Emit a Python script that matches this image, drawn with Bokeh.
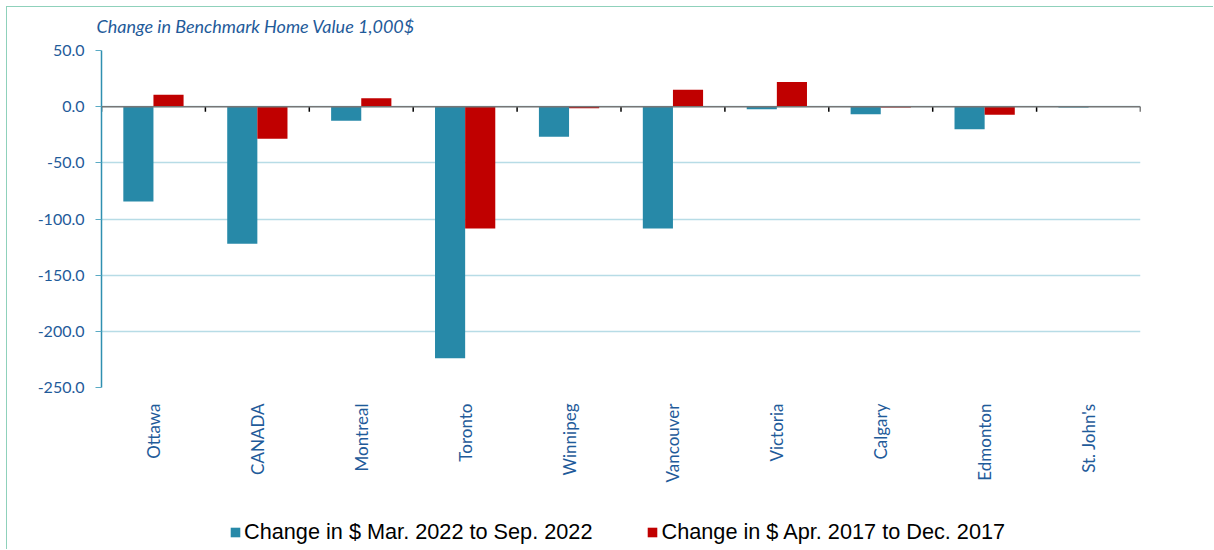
import math
from bokeh.plotting import figure
from bokeh.layouts import column
from bokeh.models import FixedTicker, Legend, LegendItem, Span, NumeralTickFormatter
from bokeh.embed import file_html
from bokeh.resources import INLINE

# ---- data ----
cities = ["Ottawa", "CANADA", "Montreal", "Toronto", "Winnipeg",
          "Vancouver", "Victoria", "Calgary", "Edmonton", "St. John's"]
chg_2022 = [-84.5, -122.0, -12.5, -224.0, -26.7, -108.5, -2.3, -6.7, -20.0, -0.8]
chg_2017 = [10.7, -28.5, 7.5, -108.5, -1.5, 15.0, 22.0, -0.8, -7.2, 0.0]
y_ticks = [50, 0, -50, -100, -150, -200, -250]
series_names = ["Change in $ Mar. 2022 to Sep. 2022", "Change in $ Apr. 2017 to Dec. 2017"]
title_text = "Change in Benchmark Home Value 1,000$"

# ---- styles ----
BLUE = "#2789a8"
RED = "#c00000"
TXT = "#1f5b9a"
FONT = "Lato"
W = 1206
ML, MR = 94, 73


def strip(height, top):
    f = figure(width=W, height=height, x_range=(0, 1), y_range=(0, 1),
               output_backend="svg", toolbar_location=None,
               x_axis_type=None, y_axis_type=None,
               min_border_left=ML, min_border_right=MR, min_border_top=top, min_border_bottom=0)
    f.outline_line_color = None
    f.background_fill_color = "white"
    f.border_fill_color = "white"
    f.xgrid.visible = False
    f.ygrid.visible = False
    return f


n = len(cities)
centers = [i + 0.5 for i in range(n)]
bar_w = 0.29
x_blue = [c - bar_w / 2 for c in centers]
x_red = [c + bar_w / 2 for c in centers]
bounds = list(range(n + 1))

# ---- title strip ----
p0 = strip(32, 29)
p0.title.text = title_text
p0.title.align = "left"
p0.title.offset = -5
p0.title.standoff = 0
p0.title.text_font = FONT
p0.title.text_font_style = "italic"
p0.title.text_font_size = "18px"
p0.title.text_color = TXT

# ---- main chart ----
p = figure(width=W, height=464, x_range=(0, n), y_range=(min(y_ticks), max(y_ticks)),
           output_backend="svg", toolbar_location=None,
           min_border_left=ML, min_border_right=MR, min_border_top=11, min_border_bottom=116)
p.outline_line_color = None
p.background_fill_color = "white"
p.border_fill_color = "white"

r1 = p.vbar(x=x_blue, top=chg_2022, bottom=0, width=bar_w, fill_color=BLUE, line_color=None)
r2 = p.vbar(x=x_red, top=chg_2017, bottom=0, width=bar_w, fill_color=RED, line_color=None)

# zero axis line with category boundary ticks
p.add_layout(Span(location=0, dimension="width", line_color="#767676", line_width=1.5))
p.segment(x0=bounds, y0=[0] * len(bounds), x1=bounds, y1=[-4.5] * len(bounds),
          line_color="black", line_width=1.5)

# grid
p.xgrid.visible = False
p.ygrid.ticker = FixedTicker(ticks=y_ticks)
p.ygrid.grid_line_color = "#b7dce6"
p.ygrid.grid_line_width = 1.5

# y axis
ya = p.yaxis[0]
ya.ticker = FixedTicker(ticks=y_ticks)
ya.formatter = NumeralTickFormatter(format="0.0")
ya.axis_line_color = "#2f8fb0"
ya.axis_line_width = 1.5
ya.major_tick_line_color = "#5aaac4"
ya.major_tick_out = 6
ya.major_tick_in = 0
ya.minor_tick_line_color = None
ya.major_label_text_color = TXT
ya.major_label_text_font = FONT
ya.major_label_text_font_size = "16px"
ya.major_label_standoff = 11

# x axis (labels only, at bottom)
xa = p.xaxis[0]
xa.ticker = FixedTicker(ticks=centers)
xa.major_label_overrides = {c: name for c, name in zip(centers, cities)}
xa.axis_line_color = None
xa.major_tick_line_color = None
xa.minor_tick_line_color = None
xa.major_label_orientation = math.pi / 2
xa.major_label_text_color = TXT
xa.major_label_text_font = FONT
xa.major_label_text_font_size = "17px"
xa.major_label_standoff = 10

# ---- legend strip (zero-height proxies carry the series styling) ----
p2 = strip(46, 0)
l1 = p2.vbar(x=[0.5], top=[0], bottom=[0], width=bar_w, fill_color=BLUE, line_color=None)
l2 = p2.vbar(x=[0.5], top=[0], bottom=[0], width=bar_w, fill_color=RED, line_color=None)
legend = Legend(items=[LegendItem(label=series_names[0], renderers=[l1]),
                       LegendItem(label=series_names[1], renderers=[l2])],
                location=(128, 4), orientation="horizontal",
                glyph_width=12, glyph_height=12, label_standoff=3, spacing=54,
                padding=0, margin=0, border_line_color=None, background_fill_alpha=0,
                label_text_font="Liberation Sans", label_text_font_size="21.7px",
                label_text_color="black")
p2.add_layout(legend, "center")

layout = column(p0, p, p2, spacing=0)
layout.styles = {"margin-top": "6px", "margin-left": "6px",
                 "border-top": "1.5px solid #8fd1bb", "border-left": "1.5px solid #8fd1bb"}

open("out.html", "w").write(file_html(layout, INLINE))
